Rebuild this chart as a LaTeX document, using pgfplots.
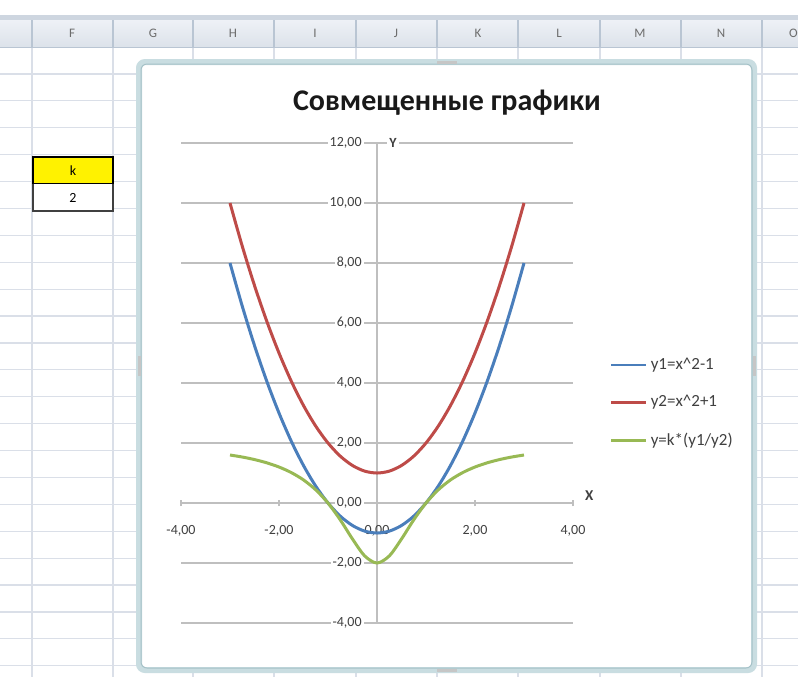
\documentclass[border=0pt]{standalone}
\usepackage{pgfplots}
\usepackage{pgfplotstable}
\pgfplotsset{compat=1.18}
\usepackage{fontspec}
\setmainfont{Carlito}
\definecolor{xblue}{HTML}{4A7EBB}
\definecolor{xred}{HTML}{BE4B48}
\definecolor{xgreen}{HTML}{98B954}
\definecolor{sgrid}{HTML}{DADFE8}
\definecolor{hdrline}{HTML}{B9C5D3}
\definecolor{hdrtop}{HTML}{EEF1F6}
\definecolor{hdrbot}{HTML}{DCE2EA}
\definecolor{chartborder}{HTML}{C9DDE1}
\definecolor{chartinner}{HTML}{A6C2C8}
\definecolor{axgray}{HTML}{BFBFBF}
\definecolor{lblgray}{HTML}{404040}

\pgfplotstableread{
x y1 y2 y
-3 8 10 1.6
-2.75 6.5625 8.5625 1.5328
-2.5 5.25 7.25 1.4483
-2.25 4.0625 6.0625 1.3402
-2 3 5 1.2
-1.75 2.0625 4.0625 1.0154
-1.5 1.25 3.25 0.7692
-1.25 0.5625 2.5625 0.4390
-1 0 2 0
-0.75 -0.4375 1.5625 -0.56
-0.5 -0.75 1.25 -1.2
-0.25 -0.9375 1.0625 -1.7647
0 -1 1 -2
0.25 -0.9375 1.0625 -1.7647
0.5 -0.75 1.25 -1.2
0.75 -0.4375 1.5625 -0.56
1 0 2 0
1.25 0.5625 2.5625 0.4390
1.5 1.25 3.25 0.7692
1.75 2.0625 4.0625 1.0154
2 3 5 1.2
2.25 4.0625 6.0625 1.3402
2.5 5.25 7.25 1.4483
2.75 6.5625 8.5625 1.5328
3 8 10 1.6
}\datatable

\begin{document}
\begin{tikzpicture}
\useasboundingbox (0,0) rectangle (399pt,-338.5pt);
\begin{scope}[x=0.5pt,y=-0.5pt]
  \fill[white] (0,0) rectangle (798,677);
  % row lines
  \foreach \r in {0,...,23} {
    \draw[sgrid, line width=0.6pt] (0,{47+26.9*\r}) -- (798,{47+26.9*\r});
  }
  % column lines
  \foreach \c in {32,113,193,274,356,437,518,600,681,762} {
    \draw[sgrid, line width=0.6pt] (\c,47) -- (\c,677);
  }
  % header
  \fill[white] (0,0) rectangle (798,16);
  \fill[hdrline!70] (0,15) rectangle (798,20);
  \shade[top color=hdrtop, bottom color=hdrbot] (0,20) rectangle (798,47);
  \draw[hdrline] (0,47) -- (798,47);
  \foreach \c in {32,113,193,274,356,437,518,600,681,762} {
    \draw[hdrline, line width=0.6pt] (\c,20) -- (\c,47);
  }
  \foreach \l/\xx in {F/72,G/153,H/233,I/315,J/396,K/478,L/559,M/640,N/721} {
    \node[font=\fontsize{6.5}{7}\selectfont, text=gray!85!black] at (\xx,33) {\l};
  }
  \node[font=\fontsize{6.5}{7}\selectfont, text=gray!85!black, anchor=east, inner sep=0pt] at (798,33) {O};
  % k cells
  \fill[yellow] (33,157) rectangle (113,184);
  \draw[black, line width=1.2pt] (33,157) rectangle (113,184);
  \fill[white] (33,184) rectangle (113,211);
  \draw[black!75, line width=0.8pt] (33,184) -- (33,211) -- (113,211) -- (113,184);
  \node[font=\fontsize{7}{8}\selectfont] at (73,171) {k};
  \node[font=\fontsize{7}{8}\selectfont] at (73,198) {2};
  % chart area
  \draw[chartborder, line width=3pt, fill=white, rounded corners=3pt] (139,62) rectangle (754,670);
  \draw[chartinner, line width=0.5pt, rounded corners=3pt] (141,64) rectangle (752,668);
  \foreach \p in {(447,62),(447,670)} {\fill[gray!45] \p ++(-10,-1.5) rectangle ++(20,3);}
  \foreach \p in {(139,366),(754,366)} {\fill[gray!45] \p ++(-1.5,-10) rectangle ++(3,20);}
  % title
  \node[font=\bfseries\fontsize{15}{18}\selectfont, text=black!90] at (447,103) {Совмещенные графики};
\end{scope}

\begin{axis}[
  at={(90.5pt,-311.5pt)}, anchor=south west,
  scale only axis, width=196pt, height=240pt,
  xmin=-4, xmax=4, ymin=-4, ymax=12,
  axis lines=middle,
  axis line style={draw=axgray, line width=0.9pt, -},
  xtick={-4,-2,0,2,4}, ytick={-4,-2,0,2,4,6,8,10,12},
  ymajorgrids, grid style={axgray, line width=0.9pt},
  hide obscured x ticks=false, hide obscured y ticks=false,
  tick style={axgray, line width=0.6pt}, major tick length=3pt, tick align=center,
  /pgf/number format/.cd, fixed, fixed zerofill, precision=2, use comma, assume math mode=true,
  /pgfplots/.cd,
  tick label style={font=\fontsize{7}{8}\selectfont, text=lblgray},
  xticklabel style={yshift=-6pt},
  yticklabel style={fill=white, inner sep=1pt, xshift=-5pt},
  xlabel={X}, ylabel={Y},
  every axis x label/.style={at={(axis cs:4,0)}, anchor=west, xshift=2.5pt, yshift=3.5pt, font=\bfseries\fontsize{7.5}{8}\selectfont, text=lblgray},
  every axis y label/.style={at={(axis cs:0,12)}, anchor=west, xshift=5pt, fill=white, inner sep=1pt, font=\bfseries\fontsize{7}{8}\selectfont, text=lblgray},
  legend style={at={(1.094,0.562)}, anchor=north west, draw=none, fill=none,
    font=\fontsize{8.5}{9}\selectfont, text=lblgray, row sep=7.5pt, inner sep=0pt},
  legend cell align=left,
  legend image code/.code={\draw[#1, line width=1.2pt] (0cm,0cm) -- (0.6cm,0cm);},
]
\addplot[xblue, line width=1.5pt, smooth] table[x=x, y=y1] {\datatable};
\addplot[xred, line width=1.5pt, smooth] table[x=x, y=y2] {\datatable};
\addplot[xgreen, line width=1.5pt, smooth] table[x=x, y=y] {\datatable};
\legend{y1=x\textasciicircum 2-1, y2=x\textasciicircum 2+1, y=k*(y1/y2)}
\end{axis}
\end{tikzpicture}
\end{document}
